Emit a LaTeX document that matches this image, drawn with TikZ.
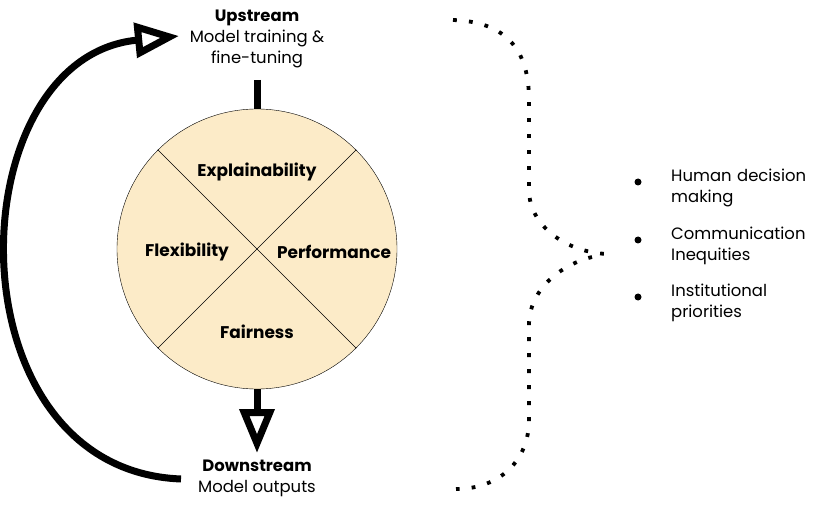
\documentclass[tikz,border=0pt]{standalone}
\usepackage{fontspec}
\setmainfont{Poppins}
\usepackage{tikz}
\usetikzlibrary{arrows.meta,positioning}

\definecolor{wheelfill}{HTML}{FCEBC8}

\begin{document}
\begin{tikzpicture}[x=1bp, y=-1bp,
  stage/.style={align=center, font=\fontsize{16.5}{21}\selectfont, inner sep=0pt},
  part/.style={font=\fontsize{17}{20}\selectfont\bfseries, inner sep=0pt},
  item/.style={align=left, anchor=north west, font=\fontsize{16.5}{21}\selectfont, inner sep=0pt, text width=160bp},
  flow/.style={line width=7bp},
  hollow/.style={-{Triangle[open, length=44bp, width=34bp]}},
  dots/.style={line width=3.8bp, dash pattern=on 3.8bp off 12.2bp}]
\useasboundingbox (0,0) rectangle (839,512);

% wheel of four parts
\node[circle, draw, thin, fill = wheelfill, minimum size = 280bp] (wheel) at (257,249) {};
\draw[thin] (wheel.45) -- (wheel.225);
\draw[thin] (wheel.135) -- (wheel.315);
\node[part] (expl) at (257,172) {Explainability};
\node[part] (flex) at (187,252) {Flexibility};
\node[part] (perf) at (334,252) {Performance};
\node[part] (fair) at (257,332) {Fairness};

% stages
\node[stage] (up) at (257,39) {\textbf{Upstream}\\Model training \&\\fine-tuning};
\node[stage] (down) at (257,478) {\textbf{Downstream}\\Model outputs};

\coordinate (upfoot) at (257,80);
\coordinate (downtip) at (257,453);
\coordinate (loopstart) at (181,479);
\coordinate (looptip) at (179,36);

\draw[flow] (upfoot) -- (wheel.north);
\draw[flow, hollow] (wheel.south) -- (downtip);
\draw[flow, hollow] (loopstart) .. controls (-52,470) and (-44,58) .. (looptip);

% brace of dots
\draw[dots] (453,20) .. controls (515,22) and (529,60) .. (529,100) -- (529,190)
  .. controls (529,225) and (565,252) .. (607,254);
\draw[dots] (592,257) .. controls (560,265) and (529,290) .. (529,325) -- (529,420)
  .. controls (529,460) and (500,489) .. (456,489);

% list
\node[item] (human) at (671,169) {Human decision\\making};
\node[item] (comm) at (671,227) {Communication\\Inequities};
\node[item] (inst) at (671,284) {Institutional\\priorities};
\foreach \n in {human, comm, inst}
  \fill ([xshift=-33bp, yshift=-13bp]\n.north west) circle (3.5bp);
\end{tikzpicture}
\end{document}
